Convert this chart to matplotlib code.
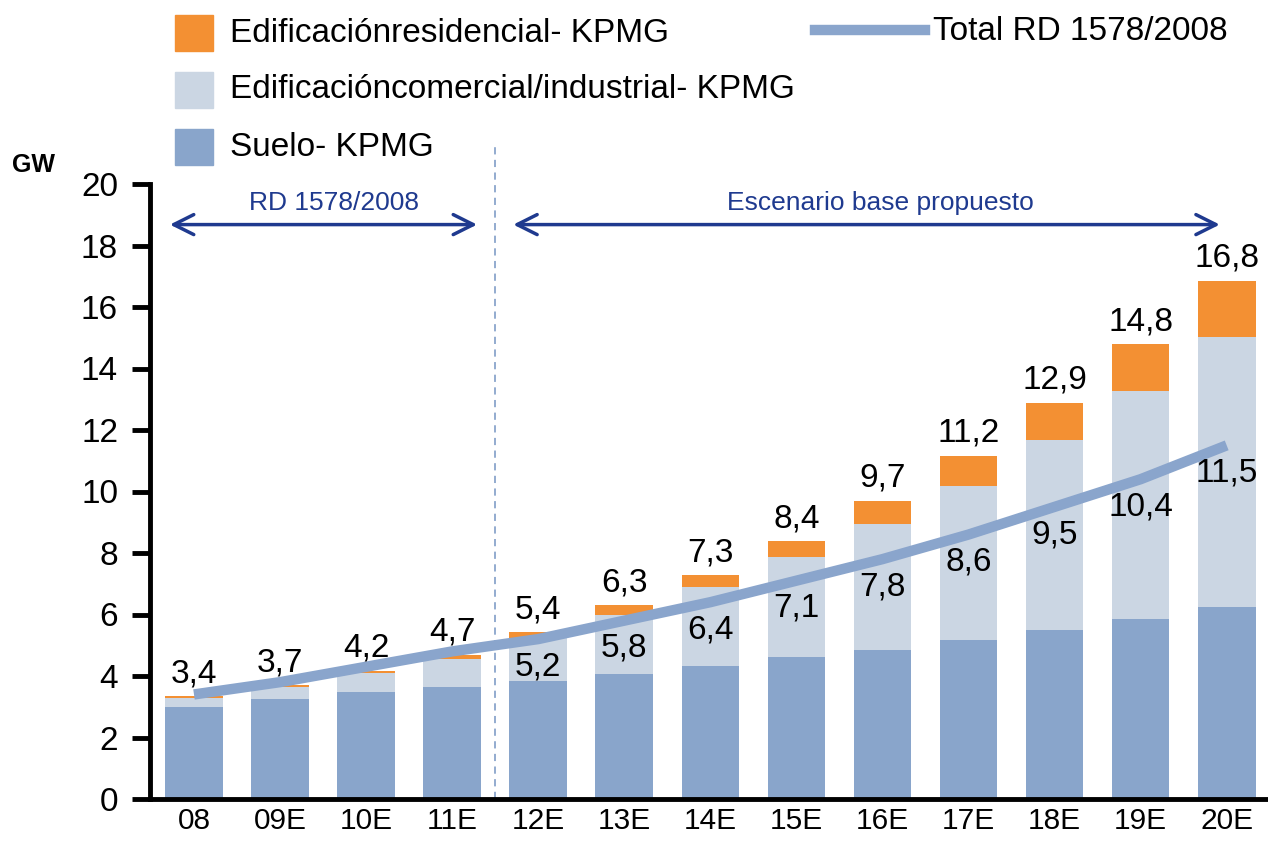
import matplotlib.pyplot as plt
from matplotlib.patches import Rectangle
from matplotlib.lines import Line2D
import numpy as np

years = ['08', '09E', '10E', '11E', '12E', '13E', '14E', '15E', '16E', '17E', '18E', '19E', '20E']
suelo = [3.0, 3.25, 3.48, 3.64, 3.84, 4.06, 4.32, 4.61, 4.86, 5.16, 5.49, 5.84, 6.23]
comercial = [0.28, 0.39, 0.62, 0.91, 1.38, 1.94, 2.57, 3.26, 4.09, 5.03, 6.20, 7.42, 8.79]
residencial = [0.07, 0.06, 0.07, 0.14, 0.20, 0.30, 0.39, 0.52, 0.75, 0.98, 1.20, 1.53, 1.84]
total_kpmg = [3.4, 3.7, 4.2, 4.7, 5.4, 6.3, 7.3, 8.4, 9.7, 11.2, 12.9, 14.8, 16.8]
total_rd = [3.4, 3.8, 4.3, 4.8, 5.2, 5.8, 6.4, 7.1, 7.8, 8.6, 9.5, 10.4, 11.5]
rd_labels = ['5,2', '5,8', '6,4', '7,1', '7,8', '8,6', '9,5', '10,4', '11,5']

c_suelo = '#89a5cb'
c_com = '#cbd6e3'
c_res = '#f39033'
c_line = '#8aa5cc'
navy = '#1f3a8f'

plt.rcParams['font.family'] = ['Liberation Sans', 'DejaVu Sans']

fig = plt.figure(figsize=(12.68, 8.43), dpi=100)
ax = fig.add_axes([150 / 1268, 1 - 799 / 843, 1118 / 1268, (799 - 184) / 843])

x = np.arange(len(years))
suelo_a = np.array(suelo)
com_a = np.array(comercial)
res_a = np.array(residencial)

ax.bar(x, suelo_a, width=0.67, color=c_suelo, zorder=2)
ax.bar(x, com_a, bottom=suelo_a, width=0.67, color=c_com, zorder=2)
ax.bar(x, res_a, bottom=suelo_a + com_a, width=0.67, color=c_res, zorder=2)
ax.plot(x, total_rd, color=c_line, lw=7.5, solid_capstyle='butt', zorder=3)

tops = suelo_a + com_a + res_a
for xi, top, val in zip(x, tops, total_kpmg):
    ax.annotate(f'{val:.1f}'.replace('.', ','), (xi, top), xytext=(0, 10),
                textcoords='offset points', ha='center', va='baseline', fontsize=24)

for xi, val, lab in zip(x[4:], total_rd[4:], rd_labels):
    ax.text(xi, val - 0.9, lab, ha='center', va='center', fontsize=24, zorder=4)

# separator and period arrows
ax.plot([3.5, 3.5], [0, 21.2], ls=(0, (4, 3)), color=c_line, lw=1.3, clip_on=False, zorder=1)
arrow = dict(arrowstyle='<->,head_length=0.72,head_width=0.36', color=navy, lw=2.5,
             shrinkA=0, shrinkB=0, mutation_scale=20)
ax.annotate('', xy=(-0.28, 18.68), xytext=(3.29, 18.68), arrowprops=arrow)
ax.annotate('', xy=(3.71, 18.68), xytext=(11.92, 18.68), arrowprops=arrow)
ax.text(1.63, 19.38, 'RD 1578/2008', color=navy, ha='center', va='center', fontsize=19)
ax.text(7.98, 19.38, 'Escenario base propuesto', color=navy, ha='center', va='center', fontsize=19)

ax.set_xlim(-0.511, 12.48)
ax.set_ylim(0, 20)
ax.set_yticks(range(0, 21, 2))
ax.set_xticks(x)
ax.set_xticklabels(years)
ax.tick_params(axis='y', direction='out', length=13, width=3.5, labelsize=24, pad=10)
ax.tick_params(axis='x', length=0, labelsize=21.5, pad=6)
for s in ['top', 'right']:
    ax.spines[s].set_visible(False)
for s in ['left', 'bottom']:
    ax.spines[s].set_linewidth(3.5)

fig.text(12 / 1268, 1 - 165 / 843, 'GW', fontsize=18, weight='bold', va='center')

# legend
entries = [(c_res, 'Edificaciónresidencial- KPMG', 33),
           (c_com, 'Edificacióncomercial/industrial- KPMG', 90),
           (c_suelo, 'Suelo- KPMG', 147)]
for col, lab, yc in entries:
    fig.patches.append(Rectangle((175 / 1268, 1 - (yc + 18) / 843), 38 / 1268, 36 / 843,
                                 transform=fig.transFigure, color=col))
    fig.text(230 / 1268, 1 - yc / 843, lab, fontsize=24, va='center')
fig.lines.append(Line2D([815 / 1268, 925 / 1268], [1 - 30 / 843, 1 - 30 / 843],
                        transform=fig.transFigure, color=c_line, lw=7.5))
fig.text(933 / 1268, 1 - 32 / 843, 'Total RD 1578/2008', fontsize=24, va='center')

fig.savefig('out.png', dpi=100)
